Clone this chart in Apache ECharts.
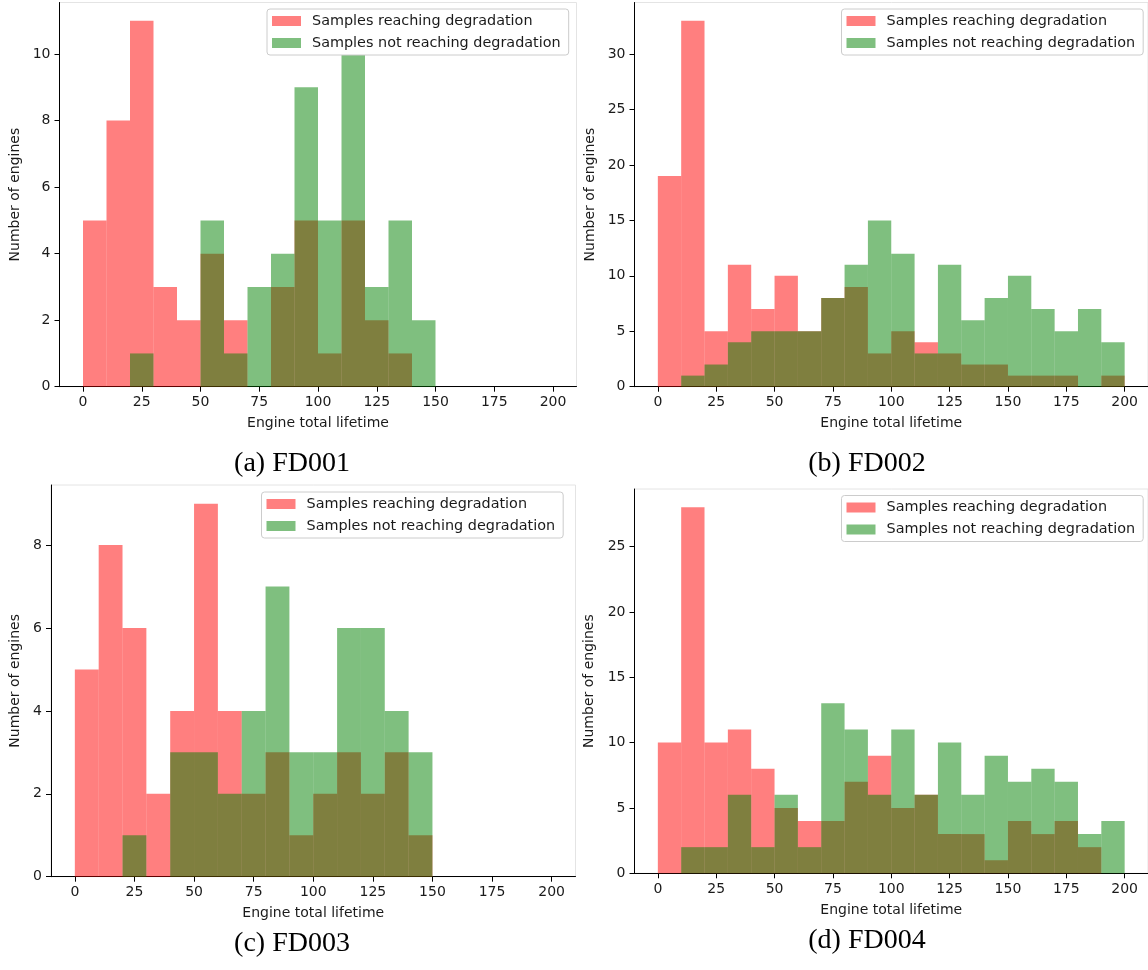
<!DOCTYPE html>
<html>
<head>
<meta charset="utf-8">
<script src="https://cdn.jsdelivr.net/npm/echarts@6/dist/echarts.min.js"></script>
<style>
  html, body { margin: 0; padding: 0; background: #ffffff; }
  #chart { width: 1148px; height: 970px; }
</style>
</head>
<body>
<div id="chart"></div>
<script>
// Histogram bins: lower edge of each 10-cycle bin
const binStarts = [0, 10, 20, 30, 40, 50, 60, 70, 80, 90, 100, 110, 120, 130, 140, 150, 160, 170, 180, 190];
const binWidth = 10;

// Engine counts per bin, one pair of arrays per dataset
const fd001Reaching    = [5, 8, 11, 3, 2, 4, 2, 0, 3, 5, 1, 5, 2, 1, 0, 0, 0, 0, 0, 0];
const fd001NotReaching = [0, 0, 1, 0, 0, 5, 1, 3, 4, 9, 5, 10, 3, 5, 2, 0, 0, 0, 0, 0];
const fd002Reaching    = [19, 33, 5, 11, 7, 10, 5, 8, 9, 3, 5, 4, 3, 2, 2, 1, 1, 1, 0, 1];
const fd002NotReaching = [0, 1, 2, 4, 5, 5, 5, 8, 11, 15, 12, 3, 11, 6, 8, 10, 7, 5, 7, 4];
const fd003Reaching    = [5, 8, 6, 2, 4, 9, 4, 2, 3, 1, 2, 3, 2, 3, 1, 0, 0, 0, 0, 0];
const fd003NotReaching = [0, 0, 1, 0, 3, 3, 2, 4, 7, 3, 3, 6, 6, 4, 3, 0, 0, 0, 0, 0];
const fd004Reaching    = [10, 28, 10, 11, 8, 5, 4, 4, 7, 9, 5, 6, 3, 3, 1, 4, 3, 4, 2, 0];
const fd004NotReaching = [0, 2, 2, 6, 2, 6, 2, 13, 11, 6, 11, 6, 10, 6, 9, 7, 8, 7, 3, 4];

// Tick labels
const xTicks = [0, 25, 50, 75, 100, 125, 150, 175, 200];
const yTicksA = [0, 2, 4, 6, 8, 10];
const yTicksB = [0, 5, 10, 15, 20, 25, 30];
const yTicksC = [0, 2, 4, 6, 8];
const yTicksD = [0, 5, 10, 15, 20, 25];

// Texts
const seriesNames = ['Samples reaching degradation', 'Samples not reaching degradation'];
const captions = ['(a) FD001', '(b) FD002', '(c) FD003', '(d) FD004'];
const xName = 'Engine total lifetime';
const yName = 'Number of engines';

const RED = 'rgba(255, 0, 0, 0.5)';
const GREEN = 'rgba(0, 128, 0, 0.5)';
const SANS = 'DejaVu Sans';

const panels = [
  { reach: fd001Reaching, notReach: fd001NotReaching, yTicks: yTicksA,
    grid: { left: 59.5, top: 2.5, width: 517, height: 384.2 }, yGap: 37, legend: { left: 267, top: 9 },
    caption: { x: 292, y: 464 } },
  { reach: fd002Reaching, notReach: fd002NotReaching, yTicks: yTicksB,
    grid: { left: 634.5, top: 2.5, width: 515, height: 384.2 }, yGap: 37.5, legend: { left: 841.5, top: 9 },
    caption: { x: 867, y: 464 } },
  { reach: fd003Reaching, notReach: fd003NotReaching, yTicks: yTicksC,
    grid: { left: 51, top: 485, width: 524.5, height: 391.7 }, yGap: 29, legend: { left: 261.5, top: 492 },
    caption: { x: 292, y: 944 } },
  { reach: fd004Reaching, notReach: fd004NotReaching, yTicks: yTicksD,
    grid: { left: 634.5, top: 489, width: 514.5, height: 384.3 }, yGap: 38, legend: { left: 841.5, top: 495.5 },
    caption: { x: 867, y: 941 } }
];

function histData(counts) {
  return binStarts.map((s, i) => [s, s + binWidth, counts[i]]);
}

// One filled rectangle per bin, placed through the axis scales
function renderBin(params, api) {
  const c = api.value(2);
  if (!c) return null;
  const p0 = api.coord([api.value(0), 0]);
  const p1 = api.coord([api.value(1), c]);
  return {
    type: 'rect',
    shape: { x: p0[0], y: p1[1], width: p1[0] - p0[0], height: p0[1] - p1[1] },
    style: { fill: api.visual('color') }
  };
}

const axisTextStyle = { color: '#1a1a1a', fontFamily: SANS, fontSize: 14 };

const option = {
  animation: false,
  backgroundColor: '#ffffff',
  grid: panels.map(p => Object.assign({
    show: true, borderColor: '#e4e4e4', borderWidth: 1, backgroundColor: 'transparent', containLabel: false
  }, p.grid)),
  xAxis: panels.map((p, i) => ({
    type: 'value', gridIndex: i, min: -10, max: 210,
    name: xName, nameLocation: 'middle', nameGap: 30,
    nameTextStyle: axisTextStyle,
    axisLine: { show: true, onZero: false, lineStyle: { color: '#000', width: 1 } },
    axisTick: { show: true, length: 5, inside: false, customValues: xTicks, lineStyle: { color: '#000' } },
    axisLabel: { show: true, margin: 9, customValues: xTicks, ...axisTextStyle },
    splitLine: { show: false }
  })),
  yAxis: panels.map((p, i) => ({
    type: 'value', gridIndex: i, min: 0, max: Math.max(...p.reach, ...p.notReach) * 1.05,
    name: yName, nameLocation: 'middle', nameGap: p.yGap, nameRotate: 90,
    nameTextStyle: axisTextStyle,
    axisLine: { show: true, onZero: false, lineStyle: { color: '#000', width: 1 } },
    axisTick: { show: true, length: 5, inside: false, customValues: p.yTicks, lineStyle: { color: '#000' } },
    axisLabel: { show: true, margin: 9, customValues: p.yTicks, ...axisTextStyle },
    splitLine: { show: false }
  })),
  legend: panels.map(p => ({
    orient: 'vertical',
    left: p.legend.left, top: p.legend.top,
    data: seriesNames,
    icon: 'rect', itemWidth: 29, itemHeight: 10, itemGap: 8,
    padding: [5, 8, 5, 5],
    backgroundColor: '#ffffff', borderColor: '#cccccc', borderWidth: 1, borderRadius: 3,
    textStyle: { color: '#1a1a1a', fontFamily: SANS, fontSize: 14.4, padding: [0, 0, 0, 6] },
    selectedMode: false
  })),
  series: panels.flatMap((p, i) => [
    { name: seriesNames[0], type: 'custom', xAxisIndex: i, yAxisIndex: i,
      renderItem: renderBin, encode: { x: [0, 1], y: 2 },
      itemStyle: { color: RED }, data: histData(p.reach) },
    { name: seriesNames[1], type: 'custom', xAxisIndex: i, yAxisIndex: i,
      renderItem: renderBin, encode: { x: [0, 1], y: 2 },
      itemStyle: { color: GREEN }, data: histData(p.notReach) }
  ]),
  graphic: panels.map((p, i) => ({
    type: 'text', x: p.caption.x, y: p.caption.y,
    style: { text: captions[i], fill: '#000', font: '28px "Liberation Serif"', align: 'center', verticalAlign: 'middle' }
  }))
};

const chart = echarts.init(document.getElementById('chart'), null, { renderer: 'canvas' });
chart.setOption(option);
</script>
</body>
</html>
